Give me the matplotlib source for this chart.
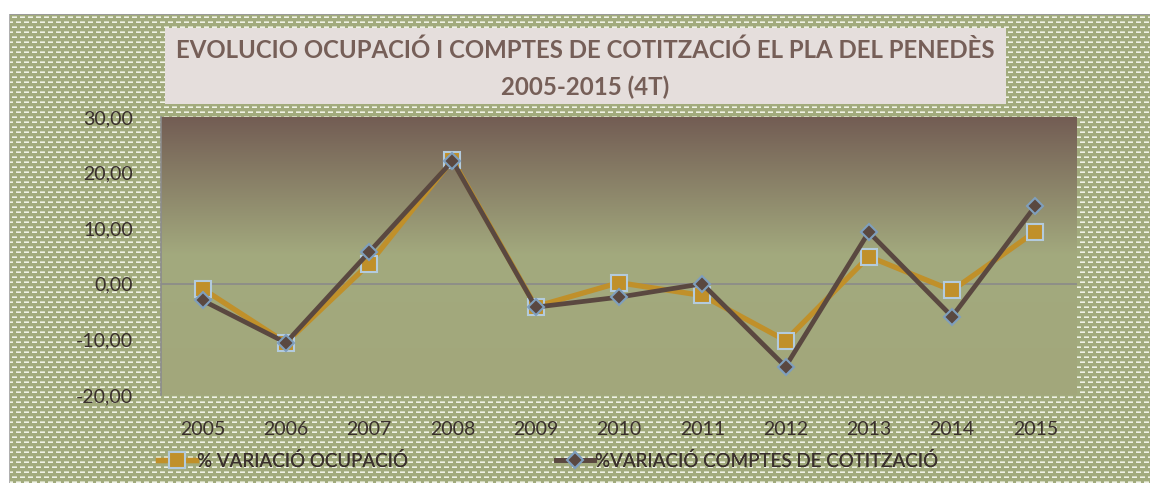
import numpy as np
import matplotlib.pyplot as plt
from matplotlib.colors import to_rgb
from matplotlib.lines import Line2D

# dades
years = ['2005', '2006', '2007', '2008', '2009', '2010', '2011', '2012', '2013', '2014', '2015']
ocupacio = [-0.9, -10.6, 3.6, 22.3, -4.1, 0.2, -2.1, -10.2, 4.9, -1.2, 9.4]
comptes = [-3.0, -10.6, 5.7, 22.1, -4.2, -2.4, 0.0, -14.9, 9.3, -5.9, 14.0]
yticks = [-20, -10, 0, 10, 20, 30]
ytick_labels = ['-20,00', '-10,00', '0,00', '10,00', '20,00', '30,00']
noms = ['% VARIACIÓ OCUPACIÓ', '%VARIACIÓ COMPTES DE COTITZACIÓ']

plt.rcParams['font.family'] = ['Lato', 'DejaVu Sans']
txt_col = '#3a302d'
col_oc = '#c0902a'
col_co = '#5a4840'

W, H = 1150, 483
fig = plt.figure(figsize=(W / 100, H / 100), dpi=100)

# fons amb patró (verd amb traços blancs)
bg = np.ones((H, W, 3))
green = np.array(to_rgb('#a2ab7d'))
light = np.array(to_rgb('#d3d9bd'))
dash = np.array(to_rgb('#f0f2e6'))
bg[:, :] = green
yy, xx = np.mgrid[0:H, 0:W]
row = yy // 5
seg = ((xx + (row % 2) * 4) % 8) < 5
bg[((yy % 5) == 1) & seg] = light
bg[((yy % 5) == 2) & seg] = dash
bg[:14, :] = 1
bg[:, :9] = 1
bg[14, 9:] = to_rgb('#9a9a9a')
bg[14:, 9] = to_rgb('#b0b0b0')
fig.figimage(bg, xo=0, yo=0, origin='upper', zorder=0)

# caixa del títol
fig.patches.append(plt.Rectangle((165 / W, 1 - 104 / H), (1006 - 165) / W, (104 - 28) / H,
                                 transform=fig.transFigure, facecolor='#e5dedc',
                                 edgecolor='none', zorder=1))
fig.text(585 / W, 1 - 50 / H, 'EVOLUCIO OCUPACIÓ I COMPTES DE COTITZACIÓ EL PLA DEL PENEDÈS',
         ha='center', va='center', fontsize=17.3, fontweight='bold', color='#765f58', zorder=2)
fig.text(585 / W, 1 - 87 / H, '2005-2015 (4T)',
         ha='center', va='center', fontsize=17.3, fontweight='bold', color='#765f58', zorder=2)

ax = fig.add_axes([161 / W, 1 - 395 / H, (1077 - 161) / W, (395 - 117) / H])
ax.set_zorder(3)
x = np.arange(len(years))
ax.set_xlim(-0.5, len(years) - 0.5)
ax.set_ylim(-20, 30)

# degradat de l'àrea del gràfic
top = np.array(to_rgb('#735d54'))
mid = np.array(to_rgb('#a3aa7e'))
bot = np.array(to_rgb('#a2a77b'))
n = 300
t = np.linspace(0, 1, n)[:, None]
cut = 0.5
grad = np.where(t < cut, top + (mid - top) * (t / cut), mid + (bot - mid) * ((t - cut) / (1 - cut)))
ax.imshow(grad[:, None, :], extent=(-0.5, len(years) - 0.5, -20, 30), aspect='auto', zorder=0)

ax.axhline(0, color='#8a8a8a', lw=1.2, zorder=1)
ax.plot(x, ocupacio, color=col_oc, lw=3.8, marker='s', markersize=11.5,
        markerfacecolor=col_oc, markeredgecolor='#b3cbdd', markeredgewidth=1.5, zorder=2)
ax.plot(x, comptes, color=col_co, lw=3.4, marker='D', markersize=8.5,
        markerfacecolor=col_co, markeredgecolor='#7f9fbd', markeredgewidth=1.5, zorder=3)

for s in ['top', 'right', 'bottom']:
    ax.spines[s].set_visible(False)
ax.spines['left'].set_color('#8c8c8c')
ax.spines['left'].set_linewidth(1.2)

ax.set_xticks(x)
ax.set_xticklabels(years, fontsize=14, color=txt_col)
ax.set_yticks(yticks)
ax.set_yticklabels(ytick_labels, fontsize=14, color=txt_col)
ax.tick_params(axis='both', length=0)
ax.tick_params(axis='y', pad=20)
ax.tick_params(axis='x', pad=19)

# llegenda: dues entrades col·locades on són a l'original
h_oc = Line2D([], [], color=col_oc, lw=3.8, marker='s', markersize=11.5,
              markerfacecolor=col_oc, markeredgecolor='#b3cbdd', markeredgewidth=1.5)
h_co = Line2D([], [], color=col_co, lw=3.4, marker='D', markersize=8.5,
              markerfacecolor=col_co, markeredgecolor='#7f9fbd', markeredgewidth=1.5)
for h, nom, x0 in [(h_oc, noms[0], 158), (h_co, noms[1], 556)]:
    lg = fig.legend([h], [nom], loc='center left', bbox_to_anchor=(x0 / W, 1 - 461 / H),
                    frameon=False, fontsize=13.5, handlelength=2.0, handletextpad=0.1,
                    borderpad=0, borderaxespad=0)
    for t_ in lg.get_texts():
        t_.set_color(txt_col)
    fig.add_artist(lg)

fig.savefig('out.png', dpi=100)
